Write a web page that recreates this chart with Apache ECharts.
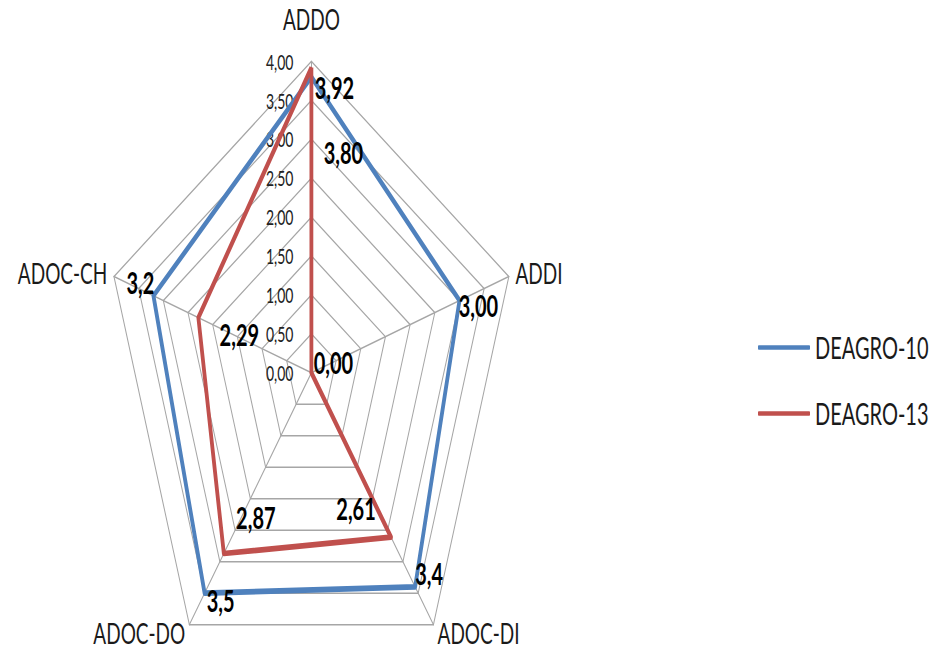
<!DOCTYPE html>
<html><head><meta charset="utf-8">
<script src="https://cdn.jsdelivr.net/npm/echarts@6/dist/echarts.min.js"></script>
<style>
html,body{margin:0;padding:0;background:#fff;overflow:hidden}
#stage{width:931px;height:650px;overflow:hidden;position:relative}
#chart{width:931px;height:433.333px;transform:scaleY(1.5);transform-origin:0 0}
</style></head>
<body><div id="stage"><div id="chart"></div></div>
<script>
// Indicators listed in ECharts' (counter-clockwise) order, starting at the top
const indicators = ['ADDO', 'ADOC-CH', 'ADOC-DO', 'ADOC-DI', 'ADDI'];
const seriesNames = ['DEAGRO-10', 'DEAGRO-13'];
const deagro10 = [3.80, 3.20, 3.50, 3.40, 3.00];
const deagro13 = [3.92, 2.29, 2.87, 2.61, 0.00];
const deagro10Labels = ['3,80', '3,2', '3,5', '3,4', '3,00'];
const deagro13Labels = ['3,92', '2,29', '2,87', '2,61', '0,00'];
const tickLabels = ['0,00', '0,50', '1,00', '1,50', '2,00', '2,50', '3,00', '3,50', '4,00'];
const axisMin = 0;
const axisMax = 4;

const FONT = 'Lato';
const colors = ['#4F81BD', '#C0504D'];
// label placement (style) relative to each point
const offs10 = [[32, 50], [-13, -9], [16, 5], [14, -9], [19, 3]];
const offs13 = [[23, 13], [41, 11], [32, -24], [-35, -19], [22, -7]];

function richFor(offsets) {
  const rich = {};
  offsets.forEach(function (o, i) {
    const dx = o[0], dy = o[1];
    rich['p' + i] = {
      padding: [Math.max(0, 2 * dy), Math.max(0, -2 * dx), Math.max(0, -2 * dy), Math.max(0, 2 * dx)],
      fontFamily: FONT, fontWeight: 'bold', fontSize: 20, color: '#000'
    };
  });
  return rich;
}
function labelFor(values, labels, offsets) {
  return {
    show: true,
    position: 'inside',
    formatter: function (p) {
      let i = p.dimensionIndex;
      if (i == null) i = values.indexOf(p.value);
      return '{p' + i + '|' + labels[i] + '}';
    },
    rich: richFor(offsets)
  };
}

const chart = echarts.init(document.getElementById('chart'), null, { renderer: 'svg' });
chart.setOption({
  animation: false,
  backgroundColor: '#fff',
  legend: {
    data: seriesNames,
    orient: 'vertical',
    left: 753,
    top: 216.7,
    itemWidth: 52,
    itemHeight: 3,
    itemGap: 24,
    icon: 'roundRect',
    textStyle: { fontFamily: FONT, fontSize: 20, lineHeight: 20, color: '#1a1a1a' }
  },
  radar: {
    center: [311.4, 248.5],
    radius: 207.6,
    startAngle: 90,
    shape: 'polygon',
    splitNumber: tickLabels.length - 1,
    nameGap: 7,
    axisName: {
      color: '#1a1a1a', fontFamily: FONT, fontSize: 19, lineHeight: 16,
      formatter: function (name) { return name === indicators[0] ? '{top|' + name + '}' : name; },
      rich: { top: { fontFamily: FONT, fontSize: 19, lineHeight: 16, color: '#1a1a1a', padding: [0, 0, 12, 0] } }
    },
    axisLine: { lineStyle: { color: '#a6a6a6', width: 1 } },
    splitLine: { lineStyle: { color: '#a6a6a6', width: 1 } },
    splitArea: { show: false },
    axisTick: { show: false },
    axisLabel: { show: false },
    indicator: indicators.map(function (n, i) {
      const ind = { name: n, min: axisMin, max: axisMax };
      if (i === 0) {
        ind.axisLabel = {
          show: true, fontFamily: FONT, fontSize: 14, color: '#222', margin: 18,
          formatter: function (v) { return tickLabels[Math.round((v - axisMin) / ((axisMax - axisMin) / (tickLabels.length - 1)))]; }
        };
      }
      return ind;
    })
  },
  series: [{
    type: 'radar',
    name: seriesNames[0],
    symbol: 'circle', symbolSize: 1,
    lineStyle: { color: colors[0], width: 3.8 },
    itemStyle: { color: colors[0] },
    z: 2,
    data: [{ name: seriesNames[0], value: deagro10, label: labelFor(deagro10, deagro10Labels, offs10) }]
  }, {
    type: 'radar',
    name: seriesNames[1],
    symbol: 'circle', symbolSize: 1,
    lineStyle: { color: colors[1], width: 3.8 },
    itemStyle: { color: colors[1] },
    z: 3,
    data: [{ name: seriesNames[1], value: deagro13, label: labelFor(deagro13, deagro13Labels, offs13) }]
  }]
});
</script></body></html>
